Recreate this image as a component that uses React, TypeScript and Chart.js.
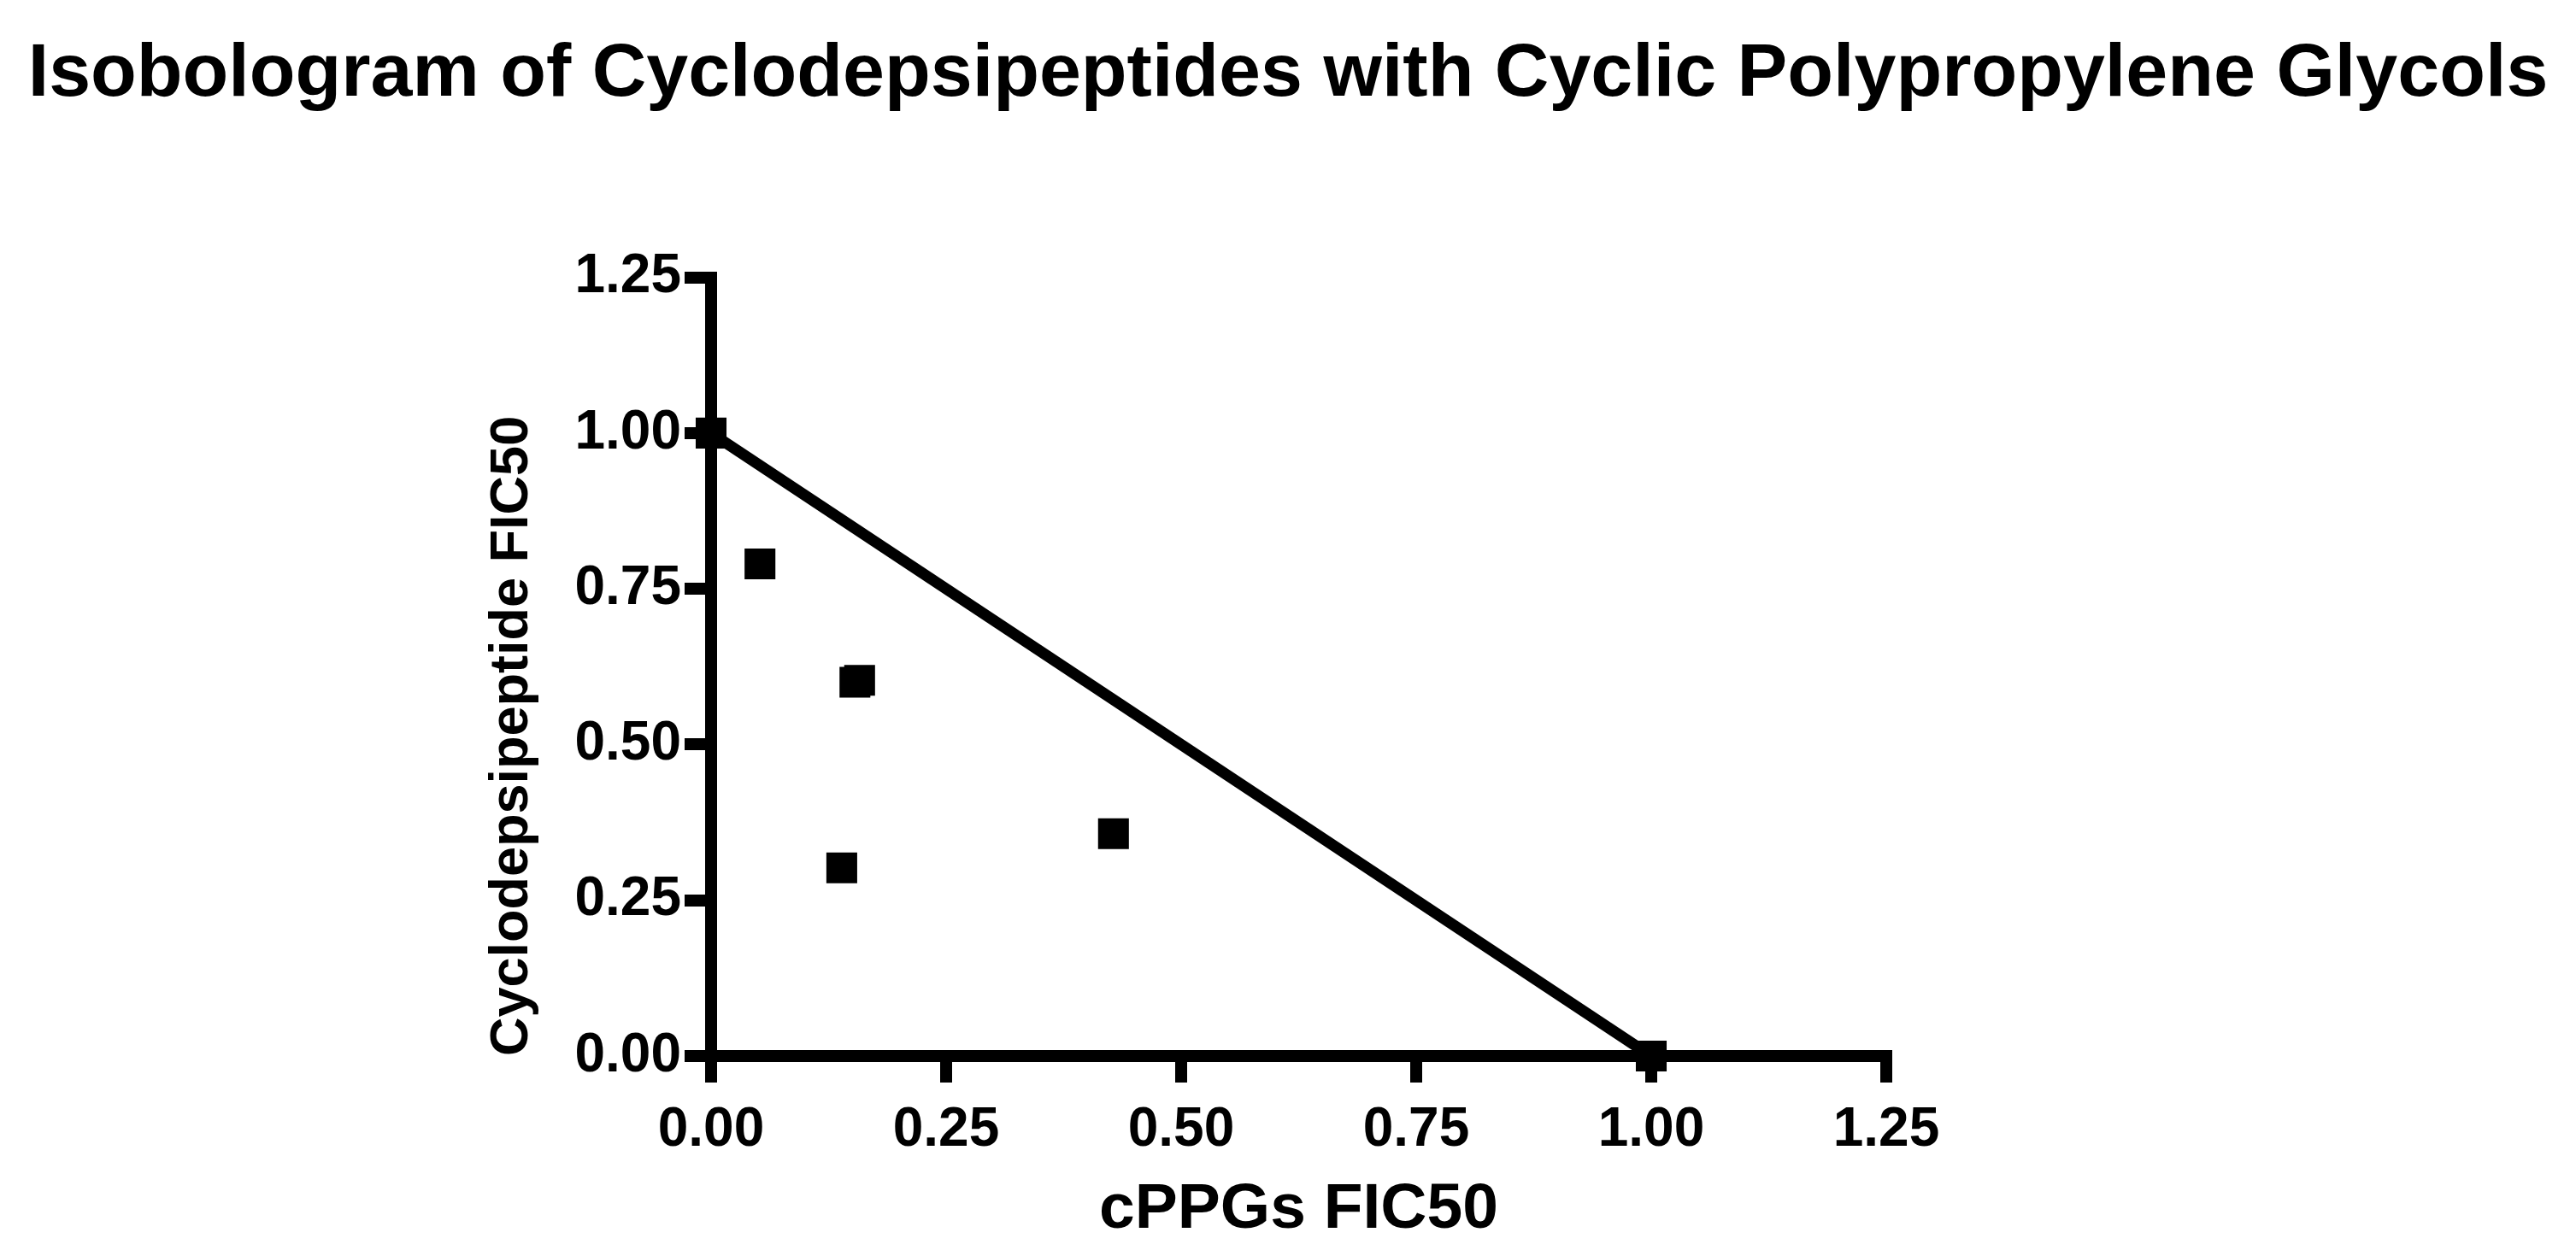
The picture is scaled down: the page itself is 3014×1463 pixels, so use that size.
import { useEffect, useRef } from "react";
import { Chart, registerables } from "chart.js";

Chart.register(...registerables);

// additivity line of the isobologram
const isoX = [0, 1];
const isoY = [1, 0];

// measured combination points (cPPGs FIC50, cyclodepsipeptide FIC50)
const comboX = [0, 0.052, 0.153, 0.158, 0.139, 0.428, 1];
const comboY = [1, 0.79, 0.6, 0.603, 0.302, 0.357, 0];

const tickValues = [0, 0.25, 0.5, 0.75, 1, 1.25];

const FONT = "'Liberation Sans', Arial, Helvetica, sans-serif";

export default function App() {
  const canvasRef = useRef<HTMLCanvasElement>(null);
  const chartRef = useRef<Chart | null>(null);

  useEffect(() => {
    if (!canvasRef.current) return;
    if (chartRef.current) chartRef.current.destroy();

    const axis = (title: string, isX: boolean) => ({
      type: "linear" as const,
      min: tickValues[0],
      max: tickValues[tickValues.length - 1],
      afterBuildTicks: (scale: any) => {
        scale.ticks = tickValues.map((v) => ({ value: v }));
      },
      afterFit: (scale: any) => {
        if (isX) scale.height = 227;
        else scale.width = 832;
      },
      border: { display: true, color: "#000", width: 14 },
      grid: {
        drawOnChartArea: false,
        color: "#000",
        lineWidth: 14,
        tickLength: 31,
      },
      ticks: {
        color: "#000",
        padding: isX ? 18 : 4,
        font: { family: FONT, size: 64, weight: "bold" as const },
        callback: (v: any) => Number(v).toFixed(2),
      },
      title: {
        display: true,
        text: title,
        color: "#000",
        align: isX ? ("center" as const) : ("start" as const),
        padding: isX ? { top: 0, bottom: 2 } : { top: 562, bottom: 0 },
        font: { family: FONT, size: isX ? 75 : 63, weight: "bold" as const },
      },
    });

    chartRef.current = new Chart(canvasRef.current, {
      type: "scatter",
      data: {
        datasets: [
          {
            label: "Additivity",
            data: isoX.map((x, i) => ({ x, y: isoY[i] })),
            showLine: true,
            borderColor: "#000",
            borderWidth: 13,
            pointRadius: 0,
            clip: false,
          },
          {
            label: "Combinations",
            data: comboX.map((x, i) => ({ x, y: comboY[i] })),
            pointStyle: "rect",
            pointRadius: 25.5,
            backgroundColor: "#000",
            borderColor: "#000",
            borderWidth: 0,
            clip: false,
          },
        ],
      },
      options: {
        animation: false,
        responsive: true,
        maintainAspectRatio: false,
        layout: { padding: 0 },
        plugins: {
          legend: { display: false },
          tooltip: { enabled: false },
          title: {
            display: true,
            text: "Isobologram of Cyclodepsipeptides with Cyclic Polypropylene Glycols",
            color: "#000",
            font: { family: FONT, size: 88, weight: "bold" },
            padding: { top: 35, bottom: 184 },
          },
        },
        scales: {
          x: axis("cPPGs FIC50", true),
          y: axis("Cyclodepsipeptide FIC50", false),
          // empty right-hand box that keeps the plot square-ish, as in the figure
          spacer: {
            type: "linear",
            position: "right",
            display: true,
            border: { display: false },
            grid: { display: false },
            ticks: { display: false },
            title: { display: false },
            afterFit: (scale: any) => {
              scale.width = 807;
            },
          },
        },
      },
    });

    return () => {
      if (chartRef.current) {
        chartRef.current.destroy();
        chartRef.current = null;
      }
    };
  }, []);

  return (
    <div
      style={{
        position: "fixed",
        left: 0,
        top: 0,
        width: "100vw",
        height: "100vh",
        background: "#fff",
      }}
    >
      <canvas ref={canvasRef} />
    </div>
  );
}
